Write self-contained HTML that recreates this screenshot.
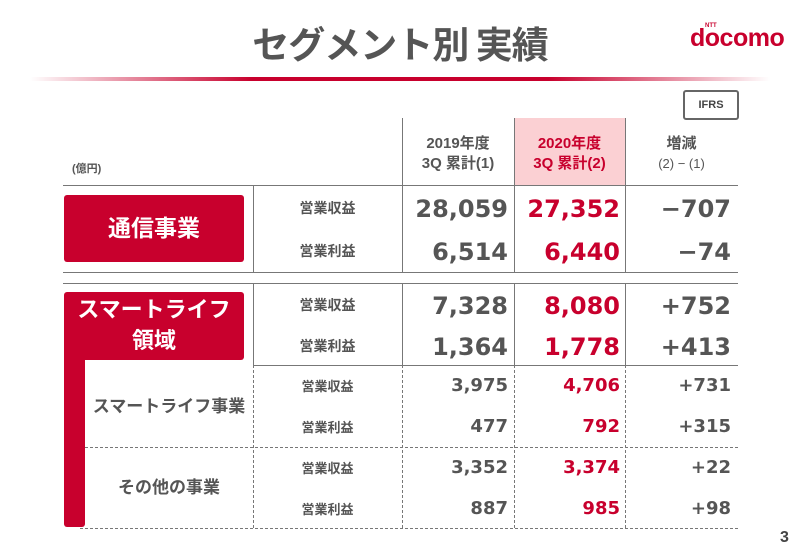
<!DOCTYPE html>
<html><head><meta charset="utf-8"><style>
body{margin:0;width:800px;height:554px;background:#fff;position:relative;overflow:hidden;font-family:"Liberation Sans","Noto Sans CJK JP",sans-serif;color:#555}
.a{position:absolute}
.h{height:1px;background:#777}
.v{width:1px;background:#777}
.dh{height:0;border-top:1px dashed #777}
.dv{width:0;border-left:1px dashed #777}
.n{font-family:"DejaVu Sans",sans-serif;font-weight:bold;text-align:right;line-height:1;white-space:nowrap}
.b{font-size:24px}.s{font-size:18px}
.r{color:#c8002d}
.lab{font-weight:bold;font-size:13px;text-align:center;line-height:1;color:#555}
</style></head><body>
<div class="a" style="left:0;width:800px;top:16px;text-align:center;font-size:37px;font-weight:bold;color:#555;line-height:52px;font-family:'Noto Sans CJK JP',sans-serif;letter-spacing:-1px">セグメント別 実績</div>
<div class="a" style="left:690px;top:24px;font-size:25px;font-weight:bold;color:#c8002d;font-family:'Liberation Sans',sans-serif;letter-spacing:-0.5px">docomo</div>
<div class="a" style="left:705px;top:23px;font-size:6px;font-weight:bold;color:#c8002d">NTT</div>
<div class="a" style="left:30px;top:77px;width:740px;height:4px;background:linear-gradient(90deg,rgba(200,0,45,0),#c8002d 30%,#c8002d 70%,rgba(200,0,45,0))"></div>
<div class="a" style="left:683px;top:90px;width:52px;height:26px;border:2px double #666;border-radius:3px;font-size:11px;font-weight:bold;text-align:center;line-height:26px;color:#444">IFRS</div>
<div class="a" style="left:514px;top:118px;width:111px;height:67px;background:#fbd0d3"></div>
<div class="a lab" style="left:402px;width:112px;top:134px;font-size:15px;line-height:20px">2019年度<br>3Q 累計(1)</div>
<div class="a lab r" style="left:514px;width:111px;top:134px;font-size:15px;line-height:20px;color:#c8002d">2020年度<br>3Q 累計(2)</div>
<div class="a lab" style="left:625px;width:113px;top:134px;font-size:15px;line-height:20px">増減<br><span style="font-weight:normal;font-size:13px">(2) − (1)</span></div>
<div class="a" style="left:72px;top:160px;font-size:11px;font-weight:bold">(億円)</div>
<div class="a h" style="left:63px;top:185px;width:675px"></div>
<div class="a h" style="left:63px;top:272px;width:675px"></div>
<div class="a h" style="left:63px;top:283px;width:675px"></div>
<div class="a h" style="left:253px;top:365px;width:485px"></div>
<div class="a v" style="left:402px;top:118px;height:154px"></div>
<div class="a v" style="left:514px;top:118px;height:154px"></div>
<div class="a v" style="left:625px;top:118px;height:154px"></div>
<div class="a v" style="left:253px;top:185px;height:87px"></div>
<div class="a v" style="left:253px;top:283px;height:82px"></div>
<div class="a v" style="left:402px;top:283px;height:82px"></div>
<div class="a v" style="left:514px;top:283px;height:82px"></div>
<div class="a v" style="left:625px;top:283px;height:82px"></div>
<div class="a dh" style="left:85px;top:447px;width:653px"></div>
<div class="a dh" style="left:80px;top:528px;width:658px"></div>
<div class="a dv" style="left:253px;top:365px;height:163px"></div>
<div class="a dv" style="left:402px;top:365px;height:163px"></div>
<div class="a dv" style="left:514px;top:365px;height:163px"></div>
<div class="a dv" style="left:625px;top:365px;height:163px"></div>
<div class="a" style="left:64px;top:195px;width:180px;height:67px;background:#c8002d;border-radius:3px;color:#fff;font-size:23px;font-weight:bold;text-align:center;line-height:67px">通信事業</div>
<div class="a" style="left:64px;top:292px;width:180px;height:66px;background:#c8002d;border-radius:3px;color:#fff;font-size:22px;font-weight:bold;text-align:center;line-height:31px;padding-top:2px">スマートライフ<br>領域</div>
<div class="a" style="left:64px;top:340px;width:21px;height:187px;background:#c8002d;border-radius:0 0 3px 3px"></div>
<div class="a lab" style="left:85px;width:168px;top:398px;font-size:17px">スマートライフ事業</div>
<div class="a lab" style="left:85px;width:168px;top:479px;font-size:17px">その他の事業</div>
<div class="a lab" style="left:253px;width:149px;top:201px;font-size:14px">営業収益</div>
<div class="a lab" style="left:253px;width:149px;top:244px;font-size:14px">営業利益</div>
<div class="a lab" style="left:253px;width:149px;top:298px;font-size:14px">営業収益</div>
<div class="a lab" style="left:253px;width:149px;top:339px;font-size:14px">営業利益</div>
<div class="a lab" style="left:253px;width:149px;top:380px">営業収益</div>
<div class="a lab" style="left:253px;width:149px;top:421px">営業利益</div>
<div class="a lab" style="left:253px;width:149px;top:462px">営業収益</div>
<div class="a lab" style="left:253px;width:149px;top:503px">営業利益</div>
<div class="a n b" style="right:292px;top:197px">28,059</div>
<div class="a n b r" style="right:180px;top:197px">27,352</div>
<div class="a n b" style="right:69px;top:197px">−707</div>
<div class="a n b" style="right:292px;top:240px">6,514</div>
<div class="a n b r" style="right:180px;top:240px">6,440</div>
<div class="a n b" style="right:69px;top:240px">−74</div>
<div class="a n b" style="right:292px;top:294px">7,328</div>
<div class="a n b r" style="right:180px;top:294px">8,080</div>
<div class="a n b" style="right:69px;top:294px">+752</div>
<div class="a n b" style="right:292px;top:335px">1,364</div>
<div class="a n b r" style="right:180px;top:335px">1,778</div>
<div class="a n b" style="right:69px;top:335px">+413</div>
<div class="a n s" style="right:292px;top:377px">3,975</div>
<div class="a n s r" style="right:180px;top:377px">4,706</div>
<div class="a n s" style="right:69px;top:377px">+731</div>
<div class="a n s" style="right:292px;top:418px">477</div>
<div class="a n s r" style="right:180px;top:418px">792</div>
<div class="a n s" style="right:69px;top:418px">+315</div>
<div class="a n s" style="right:292px;top:459px">3,352</div>
<div class="a n s r" style="right:180px;top:459px">3,374</div>
<div class="a n s" style="right:69px;top:459px">+22</div>
<div class="a n s" style="right:292px;top:500px">887</div>
<div class="a n s r" style="right:180px;top:500px">985</div>
<div class="a n s" style="right:69px;top:500px">+98</div>
<div class="a" style="left:780px;top:529px;font-size:16px;font-weight:bold;color:#444">3</div>
</body></html>
